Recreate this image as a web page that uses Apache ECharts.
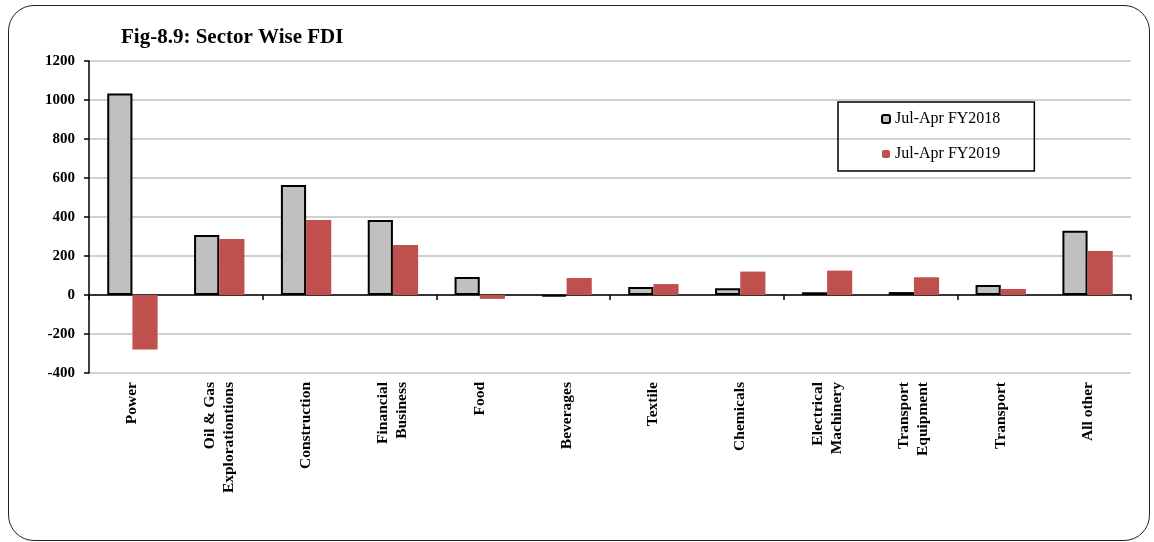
<!DOCTYPE html>
<html>
<head>
<meta charset="utf-8">
<script src="https://cdn.jsdelivr.net/npm/echarts@6/dist/echarts.min.js"></script>
<style>
html,body{margin:0;padding:0;background:#fff;}
#wrap{position:relative;width:1154px;height:542px;}
#chart{position:absolute;left:0;top:0;width:1154px;height:542px;}
#frame{position:absolute;left:8px;top:5px;width:1140px;height:534px;border:1.5px solid #222;border-radius:26px;pointer-events:none;}
</style>
</head>
<body>
<div id="wrap"><div id="chart"></div><div id="frame"></div></div>
<script>
const categories = ['Power','Oil & Gas\nExplorationtions','Construction','Financial\nBusiness','Food','Beverages','Textile','Chemicals','Electrical\nMachinery','Transport\nEquipment','Transport','All other'];
const fy2018 = [1033, 308, 564, 385, 92, -8, 41, 34, 14, 15, 51, 330];
const fy2019 = [-280, 287, 385, 256, -20, 87, 56, 120, 125, 91, 31, 226];
const seriesNames = ['Jul-Apr FY2018','Jul-Apr FY2019'];
const yMin = -400, yMax = 1200, yStep = 200;

const font = 'Liberation Serif, Times New Roman, serif';
const chart = echarts.init(document.getElementById('chart'));
chart.setOption({
  animation: false,
  title: {
    text: 'Fig-8.9: Sector Wise FDI',
    left: 116, top: 22,
    textStyle: {fontFamily: font, fontSize: 21, fontWeight: 'bold', color: '#000'}
  },
  legend: {
    orient: 'vertical',
    left: 838, top: 102,
    padding: [9, 34, 9, 43],
    itemGap: 19,
    itemWidth: 8, itemHeight: 8,
    borderColor: '#000', borderWidth: 1.5,
    textStyle: {fontFamily: font, fontSize: 16, color: '#000'},
    data: seriesNames
  },
  grid: {left: 89, right: 23, top: 61, bottom: 169},
  xAxis: [
    {
      type: 'category', data: categories, position: 'bottom',
      axisLine: {show: false, onZero: false}, axisTick: {show: false},
      axisLabel: {rotate: 90, interval: 0, margin: 9, fontFamily: font, fontSize: 15.5, fontWeight: 'bold', color: '#000', lineHeight: 19}
    },
    {
      type: 'category', data: categories, position: 'bottom',
      axisLine: {show: true, onZero: true, lineStyle: {color: '#000', width: 1.5}},
      axisTick: {show: true, length: 5, lineStyle: {color: '#000', width: 1.5}},
      axisLabel: {show: false}
    }
  ],
  yAxis: {
    type: 'value', min: yMin, max: yMax, interval: yStep,
    axisLine: {show: true, lineStyle: {color: '#000', width: 1.5}},
    axisTick: {show: true, length: 5, lineStyle: {color: '#000', width: 1.5}},
    axisLabel: {margin: 14, fontFamily: font, fontSize: 15, fontWeight: 'bold', color: '#000', formatter: function (v) { return String(v); }},
    splitLine: {show: true, lineStyle: {color: '#c0c0c0', width: 1.5}}
  },
  series: [
    {
      name: seriesNames[0], type: 'bar', xAxisIndex: 0, data: fy2018,
      barGap: '0%', barCategoryGap: '42%',
      itemStyle: {color: '#c0c0c0', borderColor: '#000', borderWidth: 2}
    },
    {
      name: seriesNames[1], type: 'bar', xAxisIndex: 0, data: fy2019,
      barGap: '0%', barCategoryGap: '42%',
      itemStyle: {color: '#c0504d'}
    }
  ]
});
</script>
</body>
</html>
